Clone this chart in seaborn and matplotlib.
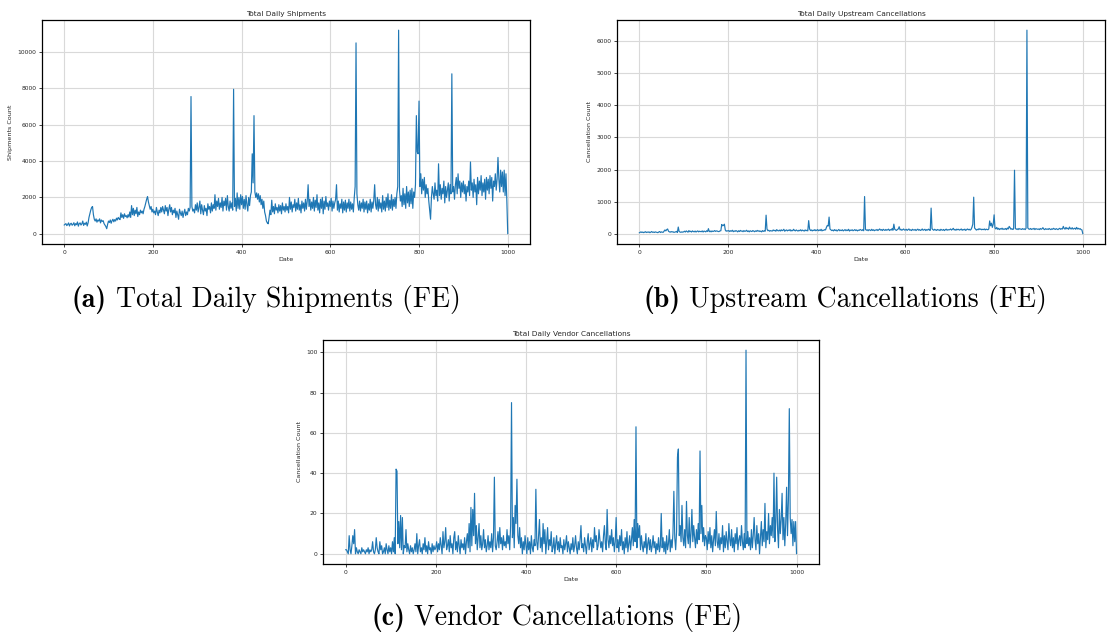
import numpy as np
import pandas as pd
import matplotlib
matplotlib.use("Agg")
import matplotlib.pyplot as plt
import seaborn as sns

# day index, one sample every 2 days (0 .. 1000)
days = np.arange(0, 1001, 2)

# Total Daily Shipments (one row = 100 days)
shipments = [
    480, 520, 560, 450, 510, 600, 430, 540, 580, 470, 520, 610, 440, 560, 500, 650, 420, 560, 600, 480,
    550, 700, 460, 580, 520, 640, 430, 600, 900, 1100, 1300, 1450, 1500, 1050, 800, 700, 820, 640, 760, 700,
    820, 600, 760, 680, 720, 560, 480, 400, 280, 520,
    700, 620, 760, 580, 720, 800, 660, 780, 700, 860, 760, 900, 820, 780, 1150, 900, 1050, 850, 1100, 950,
    1000, 880, 1050, 920, 1200, 900, 1550, 1050, 1400, 1000, 1300, 1100, 1450, 950, 1200, 1050, 1300, 1150, 1250, 1100,
    1350, 1500, 1700, 1900, 2050, 1750, 1550, 1350, 1500, 1200,
    1350, 1150, 1250, 1050, 1450, 1200, 1000, 1300, 1150, 1450, 1200, 1500, 1300, 1100, 1550, 1250, 1450, 1000, 1350, 1600,
    1200, 1450, 1050, 1300, 1150, 1400, 900, 1250, 1050, 800, 1350, 1150, 1000, 1250, 900, 1150, 1350, 1000, 1200, 1050,
    1400, 1250, 1450, 7550, 1500, 1250, 1350, 1150, 1600, 1300,
    1700, 1200, 1450, 1800, 1100, 1600, 1300, 1050, 1550, 1250, 1400, 1000, 1650, 1350, 1500, 1150, 1700, 1250, 1600, 1400,
    2150, 1300, 1800, 1500, 1950, 1350, 1700, 1450, 2000, 1250, 1800, 1550, 1950, 1300, 2100, 1500, 1250, 1800, 1400, 1700,
    1300, 7950, 1500, 1950, 1250, 2250, 1400, 2000, 1350, 2150,
    1600, 2050, 1400, 1900, 1350, 2100, 1600, 1250, 2000, 1550, 2100, 2300, 4400, 2800, 6500, 2300, 2000, 2250, 1900, 2200,
    1750, 2100, 1600, 1900, 1400, 1800, 1200, 1000, 700, 600, 550, 900, 1300, 1050, 1850, 1200, 1500, 1100, 1650, 1300,
    1450, 1150, 1600, 1250, 1550, 1100, 1700, 1300, 1500, 1200,
    1650, 1300, 1500, 1150, 2000, 1350, 1750, 1200, 1600, 1450, 1900, 1250, 1700, 1350, 1950, 1300, 1600, 1150, 1800, 1400,
    1700, 1250, 1900, 1350, 1800, 2700, 1500, 1900, 1300, 1750, 1400, 2000, 1250, 1850, 1450, 2150, 1300, 1700, 1150, 1900,
    1400, 2000, 1100, 1800, 1350, 2050, 1500, 1700, 1300, 1800,
    1500, 1950, 1250, 1800, 1400, 1700, 1900, 2700, 1300, 1800, 1200, 1650, 1400, 1900, 1150, 1750, 1300, 1850, 1200, 1700,
    1400, 1900, 1250, 1750, 1350, 1650, 1200, 2000, 2600, 10500, 2200, 1600, 1300, 1800, 1250, 1700, 1400, 1900, 1200, 1750,
    1350, 1800, 1150, 1650, 1300, 1900, 1200, 1750, 1400, 1850,
    2700, 1600, 1350, 2000, 1250, 1900, 1400, 1700, 1200, 2100, 1350, 1800, 1250, 2000, 1450, 2200, 1300, 1850, 1400, 2150,
    1300, 1900, 1500, 2000, 1400, 2200, 2600, 11200, 2400, 1800, 2100, 1500, 2500, 1600, 2200, 1400, 2600, 1700, 2300, 1500,
    2400, 1650, 2500, 1400, 2300, 2000, 2700, 6500, 4500, 4400,
    7300, 2600, 3300, 2200, 3000, 2400, 3100, 2000, 2700, 2200, 2500, 1800, 1300, 800, 2000, 2600, 2200, 1900, 2800, 2100,
    2400, 1800, 3850, 2100, 2700, 1900, 2500, 2200, 2900, 1700, 2600, 2000, 2400, 2800, 1800, 2700, 2200, 8800, 2300, 2600,
    1900, 2700, 3100, 2200, 3300, 2500, 2900, 2000, 2800, 2300,
    2900, 2200, 2700, 1800, 2600, 2300, 2900, 2100, 3950, 2400, 2800, 2000, 3000, 2300, 2700, 1600, 3100, 2200, 2900, 2400,
    3200, 2100, 2800, 2300, 3000, 1900, 3100, 2400, 3000, 2200, 3200, 2500, 3100, 1800, 2900, 2600, 3300, 2400, 3000, 4200,
    3000, 2300, 3500, 2600, 3400, 2300, 3500, 2100, 3300, 1800,
    0,
]

# Total Daily Upstream Cancellations
upstream = [
    30, 45, 60, 40, 55, 35, 50, 65, 40, 55, 45, 60, 35, 50, 70, 45, 55, 40, 60, 50,
    45, 35, 55, 70, 40, 60, 50, 45, 80, 120, 90, 130, 150, 80, 60, 50, 70, 55, 65, 45,
    50, 60, 75, 40, 210, 70, 55, 45, 60, 50,
    60, 80, 55, 90, 70, 50, 100, 65, 80, 55, 90, 70, 60, 85, 55, 75, 90, 60, 80, 70,
    65, 90, 55, 85, 75, 60, 95, 70, 160, 65, 85, 60, 90, 70, 80, 100, 75, 90, 85, 70,
    70, 90, 95, 290, 250, 260, 300, 120, 80, 95,
    85, 100, 70, 95, 80, 110, 65, 90, 75, 100, 85, 60, 95, 70, 105, 80, 90, 65, 100, 75,
    85, 110, 70, 90, 60, 95, 80, 70, 100, 85, 65, 90, 75, 105, 80, 95, 70, 85, 60, 100,
    75, 90, 80, 580, 150, 95, 110, 80, 100, 90,
    85, 120, 95, 110, 80, 130, 100, 90, 115, 85, 125, 95, 110, 140, 80, 105, 120, 90, 115, 100,
    130, 85, 110, 95, 140, 105, 90, 120, 100, 85, 110, 95, 125, 90, 115, 100, 85, 120, 95, 110,
    90, 410, 150, 100, 120, 90, 115, 100, 130, 95,
    110, 130, 95, 120, 100, 140, 90, 115, 105, 130, 120, 200, 260, 240, 520, 150, 125, 100, 115, 90,
    130, 100, 120, 85, 110, 135, 95, 115, 100, 125, 90, 110, 130, 95, 120, 100, 140, 85, 115, 105,
    125, 95, 110, 130, 100, 120, 90, 115, 105, 135,
    120, 100, 130, 95, 1160, 140, 110, 125, 95, 130, 115, 100, 140, 105, 125, 95, 120, 110, 135, 100,
    125, 150, 115, 130, 100, 140, 120, 105, 135, 110, 125, 145, 100, 130, 115, 160, 110, 300, 140, 120,
    105, 135, 150, 220, 120, 140, 110, 130, 150, 115,
    120, 140, 105, 130, 150, 110, 125, 100, 140, 120, 115, 135, 100, 125, 145, 110, 130, 105, 120, 150,
    110, 125, 140, 100, 130, 115, 145, 120, 105, 800, 160, 130, 110, 140, 120, 105, 135, 115, 125, 100,
    140, 120, 110, 135, 100, 125, 145, 110, 130, 120,
    130, 150, 115, 140, 170, 120, 135, 110, 145, 125, 140, 115, 130, 150, 110, 135, 120, 145, 105, 130,
    150, 125, 140, 115, 135, 200, 300, 1140, 180, 150, 115, 140, 125, 160, 135, 150, 125, 140, 130, 150,
    120, 145, 135, 125, 150, 400, 250, 330, 200, 300,
    590, 180, 150, 200, 140, 170, 130, 160, 145, 175, 135, 155, 140, 165, 130, 180, 150, 230, 190, 140,
    160, 135, 150, 1980, 170, 140, 155, 130, 165, 145, 150, 135, 160, 140, 155, 130, 170, 6340, 180, 150,
    140, 165, 135, 155, 145, 170, 130, 160, 150, 140,
    150, 130, 165, 140, 155, 190, 145, 130, 160, 140, 150, 135, 165, 145, 130, 155, 140, 170, 150, 135,
    160, 145, 130, 155, 170, 140, 160, 150, 230, 165, 145, 200, 155, 175, 140, 210, 160, 150, 190, 145,
    160, 175, 140, 200, 150, 170, 145, 160, 130, 120,
    0,
]

# Total Daily Vendor Cancellations
vendor = [
    2, 2, 1, 0, 9, 2, 0, 4, 9, 5, 12, 0, 3, 1, 0, 2, 1, 0, 3, 1,
    2, 1, 0, 2, 1, 3, 0, 2, 1, 2, 6, 1, 0, 2, 8, 3, 1, 0, 6, 2,
    4, 0, 1, 3, 0, 5, 2, 0, 4, 1,
    3, 0, 6, 1, 8, 0, 42, 41, 5, 16, 3, 19, 2, 18, 0, 4, 3, 12, 1, 5,
    2, 0, 4, 1, 3, 0, 2, 5, 1, 10, 0, 4, 7, 1, 3, 0, 5, 2, 8, 1,
    4, 0, 6, 2, 3, 0, 5, 1, 4, 2,
    3, 6, 1, 5, 2, 8, 4, 0, 11, 3, 6, 13, 2, 4, 7, 1, 9, 3, 5, 0,
    8, 11, 2, 6, 1, 9, 4, 0, 7, 3, 5, 2, 8, 0, 6, 10, 3, 15, 1, 23,
    4, 22, 9, 30, 5, 14, 2, 8, 15, 3,
    9, 2, 5, 12, 3, 7, 1, 4, 9, 2, 6, 3, 10, 1, 8, 38, 4, 2, 6, 11,
    3, 13, 5, 8, 2, 9, 4, 6, 3, 12, 5, 9, 2, 14, 75, 8, 18, 3, 24, 15,
    37, 9, 5, 13, 3, 8, 0, 6, 2, 9,
    4, 0, 8, 2, 6, 0, 9, 3, 1, 7, 4, 32, 6, 2, 9, 17, 3, 8, 1, 15,
    5, 12, 0, 6, 13, 2, 7, 4, 11, 1, 3, 8, 0, 5, 9, 2, 6, 1, 8, 3,
    4, 0, 7, 2, 5, 9, 1, 6, 3, 0,
    5, 2, 8, 1, 4, 9, 3, 0, 6, 2, 7, 14, 3, 5, 1, 8, 4, 0, 6, 10,
    2, 5, 8, 1, 7, 3, 13, 6, 9, 2, 4, 12, 7, 3, 6, 1, 9, 14, 5, 2,
    22, 7, 3, 9, 5, 12, 4, 8, 1, 6,
    18, 3, 7, 1, 9, 4, 12, 2, 6, 0, 8, 3, 11, 1, 5, 9, 2, 7, 13, 4,
    17, 6, 63, 3, 15, 8, 14, 2, 9, 4, 1, 6, 3, 10, 0, 5, 8, 2, 7, 1,
    4, 9, 3, 6, 0, 5, 2, 8, 1, 4,
    20, 3, 8, 1, 6, 0, 9, 2, 5, 12, 1, 7, 3, 10, 31, 8, 2, 11, 48, 52,
    9, 14, 6, 24, 8, 4, 12, 3, 26, 9, 5, 18, 3, 10, 22, 6, 14, 8, 3, 12,
    5, 15, 7, 51, 10, 24, 6, 13, 4, 9,
    8, 2, 11, 5, 13, 3, 9, 1, 7, 12, 4, 21, 6, 3, 10, 2, 8, 5, 14, 1,
    9, 3, 11, 6, 2, 15, 7, 4, 12, 3, 8, 1, 10, 5, 13, 2, 7, 9, 4, 14,
    6, 2, 10, 3, 101, 5, 11, 4, 8, 2,
    12, 3, 9, 18, 7, 2, 14, 5, 10, 0, 8, 16, 4, 12, 6, 25, 3, 11, 7, 20,
    5, 14, 9, 18, 8, 40, 6, 16, 38, 12, 3, 22, 10, 17, 30, 7, 18, 4, 15, 33,
    9, 27, 72, 18, 10, 17, 4, 16, 6, 16,
    0,
]

sns.set_style("ticks", {"axes.grid": True, "grid.color": ".85"})

fig = plt.figure(figsize=(11.07, 6.39), dpi=100)
W, H = 1107, 639

panels = [
    # values, title, ylabel, letter, caption, axes rect, caption centre (px), caption baseline (px)
    (shipments, "Total Daily Shipments", "Shipments Count", "(a)", "Total Daily Shipments (FE)",
     [0.0379, 0.6182, 0.4408, 0.3505], 266, 307),
    (upstream, "Total Daily Upstream Cancellations", "Cancellation Count", "(b)", "Upstream Cancellations (FE)",
     [0.5574, 0.6182, 0.4408, 0.3505], 845, 307),
    (vendor, "Total Daily Vendor Cancellations", "Cancellation Count", "(c)", "Vendor Cancellations (FE)",
     [0.2918, 0.1174, 0.4481, 0.3505], 557, 625),
]

renderer = fig.canvas.get_renderer()
cap_size = 20

for values, title, ylab, letter, cap, rect, cxp, cyp in panels:
    ax = fig.add_axes(rect)
    df = pd.DataFrame({"Date": days, "Count": values})
    sns.lineplot(data=df, x="Date", y="Count", ax=ax, color="#1f77b4", linewidth=0.85)
    ax.set_title(title, fontsize=5.3, pad=3)
    ax.set_xlabel("Date", fontsize=4.6, labelpad=2)
    ax.set_ylabel(ylab, fontsize=4.6, labelpad=3)
    ax.set_xticks([0, 200, 400, 600, 800, 1000])
    ax.tick_params(labelsize=4.3, length=2, width=0.6, pad=2)
    ax.grid(True, color=".85", linewidth=0.8)
    for s in ax.spines.values():
        s.set_linewidth(0.9)
        s.set_color("black")

    # caption: bold letter + roman text, centred as a whole
    t1 = fig.text(0, 0, letter, fontsize=cap_size, family="cmb10", va="baseline", color="black")
    t2 = fig.text(0, 0, cap, fontsize=cap_size, family="cmr10", va="baseline", color="black")
    w1 = t1.get_window_extent(renderer).width
    w2 = t2.get_window_extent(renderer).width
    gap = cap_size * 0.45
    x0 = cxp - (w1 + gap + w2) / 2
    yb = 1 - cyp / H
    t1.set_position((x0 / W, yb))
    t2.set_position(((x0 + w1 + gap) / W, yb))

fig.savefig("out.png", dpi=100)
